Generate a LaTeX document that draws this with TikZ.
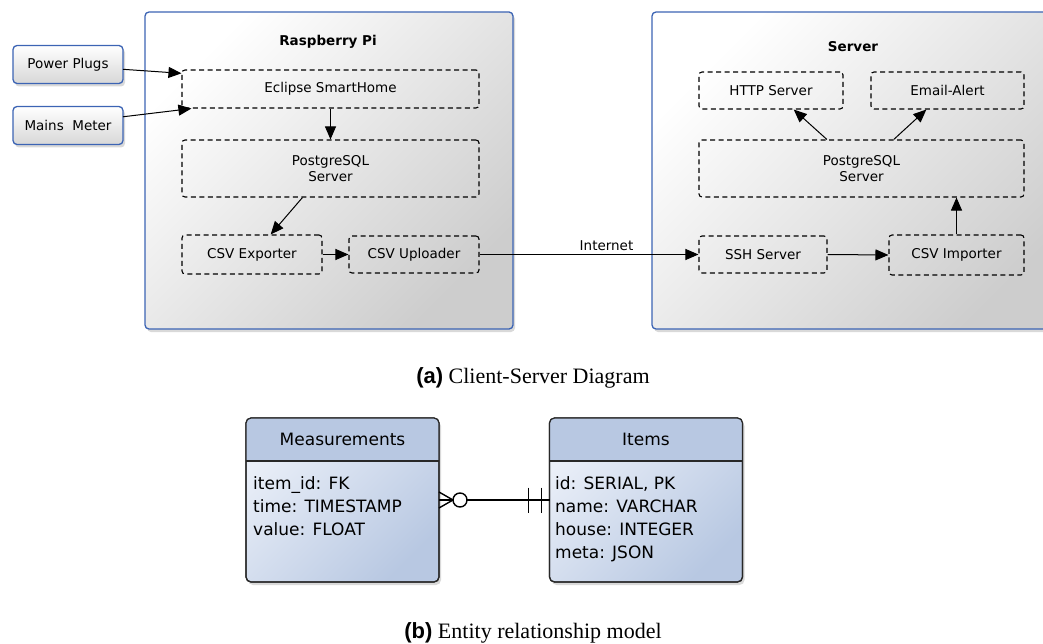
\documentclass[tikz,border=0pt]{standalone}
\usepackage{fontspec}
\setmainfont{Liberation Serif}
\newfontfamily\dejavu{DejaVu Sans}
\newfontfamily\capsans{Liberation Sans}
\usetikzlibrary{arrows.meta,shadows}
\definecolor{boxblue}{RGB}{60,100,180}
\definecolor{boxgray}{RGB}{205,205,205}
\definecolor{erblue}{RGB}{184,200,226}
\definecolor{erlight}{RGB}{234,239,248}
\definecolor{erline}{RGB}{40,40,40}

\begin{document}
\begin{tikzpicture}[x=1pt,y=-1pt,font=\dejavu\fontsize{13.5}{16}\selectfont]
  \tikzset{HOST/.style={draw=boxblue, line width=1.3pt, rounded corners=4pt, top color=white, bottom color=boxgray, shading angle=45, inner sep=0pt, outer sep=0pt, drop shadow={opacity=.3, shadow xshift=2pt, shadow yshift=-3pt}}}
  \tikzset{DEV/.style={HOST, bottom color=boxgray!80, minimum width=110pt, minimum height=38pt}}
  \tikzset{SVC/.style={draw=black, dash pattern=on 5pt off 3.5pt, line width=1.1pt, rounded corners=3pt, align=center, inner sep=0pt}}
  \tikzset{TITLE/.style={font=\dejavu\bfseries\fontsize{13.5}{16}\selectfont}}
  \tikzset{A/.style={line width=1pt, -{Triangle[length=13pt,width=11pt]}}}
  \tikzset{ENT/.style={draw=erline, line width=1.2pt, rounded corners=5pt, top color=erlight, bottom color=erblue, shading angle=45, minimum width=193pt, minimum height=164pt, inner sep=0pt, outer sep=0pt, drop shadow={opacity=.3, shadow xshift=2pt, shadow yshift=-3pt}}}
  \tikzset{HEAD/.style={font=\dejavu\fontsize{17}{20}\selectfont}}
  \tikzset{ATTR/.style={anchor=north west, align=left, inner sep=0pt, font=\dejavu\fontsize{17}{23}\selectfont}}
  \tikzset{ER/.style={line width=1.4pt, draw=black}}
  \tikzset{CAP/.style={font=\rmfamily\fontsize{22}{26}\selectfont}}
  \clip (0,0) rectangle (1043,644);

  % client-server diagram
  \node [HOST, minimum width=368pt, minimum height=317pt] (rpi) at (329,170.5) {};
  \node [HOST, minimum width=420pt, minimum height=317pt] (srv) at (862,170.5) {};
  \node [TITLE] (rpititle) at (328,42) {Raspberry Pi};
  \node [TITLE] (srvtitle) at (853,47) {Server};

  \node [DEV] (pp) at (68,64.5)  {Power Plugs};
  \node [DEV] (mm) at (68,125.5) {Mains\ \ Meter};

  \node [SVC, minimum width=297pt, minimum height=38pt] (ecl) at (330.5,89)    {Eclipse SmartHome};
  \node [SVC, minimum width=297pt, minimum height=57pt] (pgl) at (330.5,168.5) {PostgreSQL\\Server};
  \node [SVC, minimum width=140pt, minimum height=39pt] (exp) at (252,254.5)   {CSV Exporter};
  \node [SVC, minimum width=130pt, minimum height=37pt] (upl) at (414,254.5)   {CSV Uploader};

  \node [SVC, minimum width=144pt, minimum height=37pt] (http)  at (771,90.5)    {HTTP Server};
  \node [SVC, minimum width=153pt, minimum height=37pt] (email) at (947.5,90.5)  {Email-Alert};
  \node [SVC, minimum width=325pt, minimum height=57pt] (pgr)   at (861.5,168.5) {PostgreSQL\\Server};
  \node [SVC, minimum width=128pt, minimum height=37pt] (ssh)   at (763,254.5)   {SSH Server};
  \node [SVC, minimum width=135pt, minimum height=40pt] (imp)   at (956.5,255)   {CSV Importer};

  \foreach \from/\to in {pp.-5/ecl.174,mm.9/ecl.188,ecl/pgl,pgl.226/exp.47,exp.east/upl.west,
                         pgr.140/http.-40,pgr.42/email.222,ssh.east/imp.west}
    \draw [A] (\from) -- (\to);
  \draw [A] (imp.north) -- (imp.north |- pgr.south);
  \draw [A] (upl.east) -- node [above, pos=.58] {Internet} (ssh.west);

  \node [CAP] (capa) at (533,378) {{\capsans\bfseries (a)} Client-Server Diagram};

  % entity relationship model
  \node [ENT] (meas)  at (342.5,500) {};
  \node [ENT] (items) at (646,500) {};
  \foreach \e in {meas,items} {
    \begin{scope}
      \clip [rounded corners=5pt] (\e.north west) rectangle (\e.south east);
      \fill [erblue] (\e.north west) rectangle ([yshift=-43pt]\e.north east);
    \end{scope}
    \draw [line width=1.2pt, draw=erline] ([yshift=-43pt]\e.north west) -- ([yshift=-43pt]\e.north east);
    \draw [line width=1.2pt, draw=erline, rounded corners=5pt] (\e.north west) rectangle (\e.south east);
  }
  \node [HEAD] (meashead)  at ([yshift=-21.5pt]meas.north)  {Measurements};
  \node [HEAD] (itemshead) at ([yshift=-21.5pt]items.north) {Items};
  \node [ATTR] (measattr)  at (253,476) {item\_id: FK\\time: TIMESTAMP\\value: FLOAT};
  \node [ATTR] (itemsattr) at (555,476) {id: SERIAL, PK\\name: VARCHAR\\house: INTEGER\\meta: JSON};

  \draw [ER] (meas.east) -- (items.west);
  \draw [ER] ([yshift=8pt]meas.east) -- ([xshift=14pt]meas.east) -- ([yshift=-8pt]meas.east);
  \node [ER, circle, fill=white, minimum size=14pt, inner sep=0pt] (zero) at ([xshift=21pt]meas.east) {};
  \draw [ER] ([xshift=-21pt,yshift=12.5pt]items.west) -- ([xshift=-21pt,yshift=-12.5pt]items.west);
  \draw [ER] ([xshift=-8pt,yshift=12.5pt]items.west) -- ([xshift=-8pt,yshift=-12.5pt]items.west);

  \node [CAP] (capb) at (533,633) {{\capsans\bfseries (b)} Entity relationship model};
\end{tikzpicture}
\end{document}
